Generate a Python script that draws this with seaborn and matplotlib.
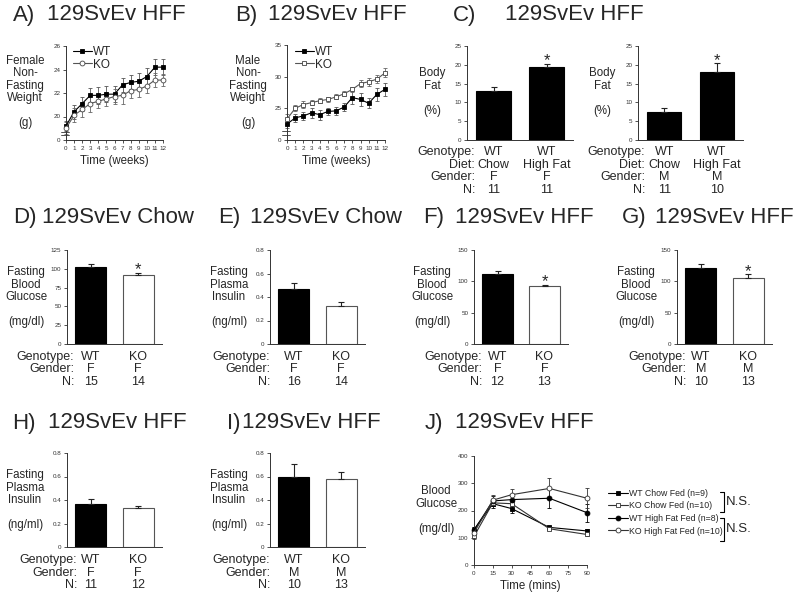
# 129SvEv HFF / Chow panels A-J
import numpy as np
import pandas as pd
import matplotlib
matplotlib.use("Agg")
import matplotlib.pyplot as plt
import matplotlib.transforms as transforms
from matplotlib.lines import Line2D
import seaborn as sns

# A/B: weekly body weight (g)
weeks = list(range(13))
female_wt = [19.2, 20.4, 21.1, 21.8, 21.8, 21.9, 21.9, 22.7, 22.9, 23.0, 23.4, 24.2, 24.2]
female_wt_err = [0.4, 0.6, 0.6, 0.6, 0.7, 0.7, 0.7, 0.6, 0.6, 0.7, 0.7, 0.7, 0.7]
female_ko = [19.0, 20.1, 20.6, 21.1, 21.3, 21.5, 21.7, 21.8, 22.2, 22.3, 22.6, 23.1, 23.1]
female_ko_err = [0.5, 0.6, 0.6, 0.7, 0.6, 0.6, 0.6, 0.7, 0.6, 0.6, 0.6, 0.6, 0.5]
male_wt = [22.5, 23.5, 23.8, 24.3, 24.0, 24.5, 24.6, 25.2, 26.7, 26.4, 25.8, 27.2, 28.0]
male_wt_err = [0.6, 0.6, 0.6, 0.8, 0.8, 0.6, 0.6, 0.6, 1.0, 1.0, 0.8, 1.0, 1.0]
male_ko = [23.3, 25.0, 25.6, 25.9, 26.2, 26.4, 26.8, 27.3, 28.0, 28.9, 29.2, 29.6, 30.6]
male_ko_err = [0.8, 0.5, 0.5, 0.4, 0.4, 0.4, 0.4, 0.4, 0.4, 0.5, 0.6, 0.6, 0.7]

# C: body fat (%)
fat_f = [13.0, 19.3]
fat_f_err = [1.0, 1.0]
fat_m = [7.4, 18.1]
fat_m_err = [1.2, 2.3]

# D-I: fasting glucose (mg/dl) and insulin (ng/ml)
chow_glu = [103, 92]
chow_glu_err = [3, 3]
chow_ins = [0.47, 0.32]
chow_ins_err = [0.05, 0.04]
hff_glu_f = [111, 92]
hff_glu_f_err = [5, 2]
hff_glu_m = [122, 106]
hff_glu_m_err = [6, 5]
hff_ins_f = [0.37, 0.33]
hff_ins_f_err = [0.04, 0.02]
hff_ins_m = [0.60, 0.58]
hff_ins_m_err = [0.11, 0.06]

# table text under the bars
geno_wt_wt = ["WT", "WT"]
geno_wt_ko = ["WT", "KO"]
diet_c = ["Chow", "High Fat"]
sex_f = ["F", "F"]
sex_m = ["M", "M"]
n_c1 = ["11", "11"]
n_c2 = ["11", "10"]
n_d = ["15", "14"]
n_e = ["16", "14"]
n_f = ["12", "13"]
n_g = ["10", "13"]
n_h = ["11", "12"]
n_i = ["10", "13"]

# J: glucose tolerance test
gtt_time = [0, 15, 30, 60, 90]
gtt_wt_chow = [130, 225, 207, 138, 125]
gtt_wt_chow_err = [8, 15, 18, 6, 6]
gtt_ko_chow = [105, 228, 225, 133, 112]
gtt_ko_chow_err = [8, 12, 10, 5, 5]
gtt_wt_hf = [128, 235, 240, 245, 192]
gtt_wt_hf_err = [10, 20, 15, 37, 33]
gtt_ko_hf = [118, 238, 258, 281, 245]
gtt_ko_hf_err = [8, 20, 20, 37, 37]

sns.set_theme(style="ticks")
plt.rcParams["font.family"] = ["Liberation Sans", "DejaVu Sans"]

W, H = 800, 597
fig = plt.figure(figsize=(W / 100, H / 100), dpi=100)


def fx(px):
    return px / W


def fy(py):
    return 1 - py / H


def make_ax(l, t, r, b):
    ax = fig.add_axes([fx(l), fy(b), (r - l) / W, (b - t) / H])
    sns.despine(ax=ax)
    for s in ("left", "bottom"):
        ax.spines[s].set_linewidth(0.7)
        ax.spines[s].set_color("#333")
    ax.tick_params(labelsize=4.5, length=2.5, width=0.6, color="#333",
                   labelcolor="#333", pad=1.5)
    ax.set_facecolor("none")
    return ax


def title(label, lx, name, nx, y):
    fig.text(fx(lx), fy(y), label, fontsize=16, ha="left", va="center")
    fig.text(fx(nx), fy(y), name, fontsize=16, ha="left", va="center")


def ylab(text, x, y):
    fig.text(fx(x), fy(y), text, fontsize=8.3, ha="center", va="center",
             multialignment="center", linespacing=1.05)


def bar_panel(box, vals, errs, fills, ymax, ystep, stars, headers, rows, hdr_x, offs):
    l, t, r, b = box
    ax = make_ax(*box)
    keys = [" ".join(c) for c in zip(*rows)]
    df = pd.DataFrame({"key": keys, "val": vals})
    sns.barplot(data=df, x="key", y="val", hue="key", palette=dict(zip(keys, fills)),
                width=0.65, errorbar=None, legend=False, linewidth=0.8, ax=ax)
    for p, f in zip(ax.patches, fills):
        p.set_edgecolor("black" if f == "black" else "#555")
    ax.errorbar(range(len(vals)), vals, yerr=[[0] * len(vals), errs], fmt="none",
                ecolor="#222", elinewidth=0.8, capsize=2, capthick=0.8)
    for i in stars:
        ax.annotate("*", xy=(i, vals[i] + errs[i]), xytext=(0, -1),
                    textcoords="offset points", ha="center", va="baseline", fontsize=12)
    ax.set_xlim(-0.5, len(vals) - 0.5)
    ax.set_ylim(0, ymax)
    ticks = np.arange(0, ymax + ystep / 2, ystep)
    ax.set_yticks(ticks)
    ax.set_yticklabels([f"{v:g}" for v in ticks])
    ax.set_xticks([])
    ax.set_xlabel("")
    ax.set_ylabel("")
    tr = transforms.blended_transform_factory(ax.transData, fig.transFigure)
    for row, h, off in zip(rows, headers, offs):
        yy = fy(b + off)
        fig.text(fx(hdr_x), yy, h, ha="right", va="center", fontsize=9)
        for i, txt in enumerate(row):
            ax.text(i, yy, txt, transform=tr, ha="center", va="center", fontsize=9)
    return ax


def weight_panel(box, wt, wt_err, ko, ko_err, ko_marker, ylo, ticks, labels, leg_xy):
    ax = make_ax(*box)
    sns.lineplot(x=weeks, y=wt, ax=ax, color="black", lw=0.8, marker="s", markersize=3.5,
                 markerfacecolor="black", markeredgecolor="black", markeredgewidth=0.6,
                 label="WT", clip_on=False, zorder=4)
    ax.errorbar(weeks, wt, yerr=wt_err, fmt="none", ecolor="#555", elinewidth=0.6,
                capsize=1.5, capthick=0.6, clip_on=False)
    sns.lineplot(x=weeks, y=ko, ax=ax, color="#555", lw=0.8, marker=ko_marker, markersize=3.5,
                 markerfacecolor="white", markeredgecolor="#444", markeredgewidth=0.6,
                 label="KO", clip_on=False, zorder=4)
    ax.errorbar(weeks, ko, yerr=ko_err, fmt="none", ecolor="#666", elinewidth=0.6,
                capsize=1.5, capthick=0.6, clip_on=False)
    ax.set_xlim(0, 12)
    ax.set_ylim(ylo, ticks[-1])
    ax.set_xticks(weeks)
    ax.set_yticks(ticks)
    ax.set_yticklabels(labels)
    ax.set_ylabel("")
    ax.set_xlabel("Time (weeks)", fontsize=8.3, labelpad=3)
    for yb in (0.055, 0.09):
        ax.plot([-0.05, 0.03], [yb, yb], transform=ax.transAxes, color="#333",
                lw=0.6, clip_on=False)
    ax.legend(loc="upper left", bbox_to_anchor=leg_xy, bbox_transform=fig.transFigure,
              frameon=False, fontsize=8.5, handlelength=1.6, handletextpad=0.1,
              labelspacing=0.05, borderaxespad=0, borderpad=0)
    return ax


# ---- row 1 ----
title("A)", 13, "129SvEv HFF", 47, 15)
weight_panel((66, 46, 163, 140), female_wt, female_wt_err, female_ko, female_ko_err, "o",
             18, [18, 20, 22, 24, 26], ["0", "20", "22", "24", "26"], (fx(73), fy(46)))
ylab("Female\nNon-\nFasting\nWeight\n\n(g)", 25, 92)

title("B)", 235, "129SvEv HFF", 268, 15)
weight_panel((287, 45, 385, 140), male_wt, male_wt_err, male_ko, male_ko_err, "s",
             20, [20, 25, 30, 35], ["0", "25", "30", "35"], (fx(295), fy(46)))
ylab("Male\nNon-\nFasting\nWeight\n\n(g)", 248, 92)

title("C)", 453, "129SvEv HFF", 505, 15)
c_hdr = ["Genotype:", "Diet:", "Gender:", "N:"]
c_offs = [12, 25, 37, 50]
bar_panel((467, 46, 573, 140), fat_f, fat_f_err, ["black", "black"], 25, 5, [1],
          c_hdr, [geno_wt_wt, diet_c, sex_f, n_c1], 475, c_offs)
ylab("Body\nFat\n\n(%)", 432, 92)
bar_panel((638, 46, 743, 140), fat_m, fat_m_err, ["black", "black"], 25, 5, [1],
          c_hdr, [geno_wt_wt, diet_c, sex_m, n_c2], 645, c_offs)
ylab("Body\nFat\n\n(%)", 602, 92)

# ---- row 2 ----
hdr = ["Genotype:", "Gender:", "N:"]
offs = [13, 25.5, 38]
wk = ["black", "white"]
glu_lab = "Fasting\nBlood\nGlucose\n\n(mg/dl)"
ins_lab = "Fasting\nPlasma\nInsulin\n\n(ng/ml)"

title("D)", 13, "129SvEv Chow", 42, 217)
bar_panel((67, 250, 162, 344), chow_glu, chow_glu_err, wk, 125, 25, [1],
          hdr, [geno_wt_ko, sex_f, n_d], 74, offs)
ylab(glu_lab, 26, 297)

title("E)", 218, "129SvEv Chow", 250, 217)
bar_panel((270, 250, 365, 344), chow_ins, chow_ins_err, wk, 0.8, 0.2, [],
          hdr, [geno_wt_ko, sex_f, n_e], 270, offs)
ylab(ins_lab, 229, 297)

title("F)", 423, "129SvEv HFF", 455, 217)
bar_panel((474, 250, 568, 344), hff_glu_f, hff_glu_f_err, wk, 150, 50, [1],
          hdr, [geno_wt_ko, sex_f, n_f], 482, offs)
ylab(glu_lab, 432, 297)

title("G)", 622, "129SvEv HFF", 655, 217)
bar_panel((677, 250, 772, 344), hff_glu_m, hff_glu_m_err, wk, 150, 50, [1],
          hdr, [geno_wt_ko, sex_m, n_g], 686, offs)
ylab(glu_lab, 636, 297)

# ---- row 3 ----
title("H)", 12, "129SvEv HFF", 48, 423)
bar_panel((67, 453, 162, 547), hff_ins_f, hff_ins_f_err, wk, 0.8, 0.2, [],
          hdr, [geno_wt_ko, sex_f, n_h], 77, offs)
ylab(ins_lab, 25, 500)

title("I)", 227, "129SvEv HFF", 242, 423)
bar_panel((270, 453, 365, 547), hff_ins_m, hff_ins_m_err, wk, 0.8, 0.2, [],
          hdr, [geno_wt_ko, sex_m, n_i], 270, offs)
ylab(ins_lab, 229, 500)

title("J)", 425, "129SvEv HFF", 455, 423)
ax = make_ax(474, 456, 587, 565)
series = [
    ("WT Chow Fed (n=9)", gtt_wt_chow, gtt_wt_chow_err, "s", "black", "black"),
    ("KO Chow Fed (n=10)", gtt_ko_chow, gtt_ko_chow_err, "s", "white", "#333"),
    ("WT High Fat Fed (n=8)", gtt_wt_hf, gtt_wt_hf_err, "o", "black", "black"),
    ("KO High Fat Fed (n=10)", gtt_ko_hf, gtt_ko_hf_err, "o", "white", "#333"),
]
for lab, v, e, m, fc, col in series:
    sns.lineplot(x=gtt_time, y=v, ax=ax, color=col, lw=0.8, marker=m, markersize=3.5,
                 markerfacecolor=fc, markeredgecolor=col, markeredgewidth=0.6,
                 label=lab, clip_on=False, zorder=4)
    ax.errorbar(gtt_time, v, yerr=e, fmt="none", ecolor=col, elinewidth=0.6,
                capsize=1.5, capthick=0.6, clip_on=False)
ax.set_xlim(0, 90)
ax.set_ylim(0, 400)
ax.set_xticks(range(0, 91, 15))
ax.set_yticks(range(0, 401, 100))
ax.set_ylabel("")
ax.set_xlabel("Time (mins)", fontsize=8.3, labelpad=3)
ax.legend(loc="upper left", bbox_to_anchor=(fx(608), fy(489)), bbox_transform=fig.transFigure,
          frameon=False, fontsize=6.3, handlelength=2.3, handletextpad=0.1,
          labelspacing=0.4, borderaxespad=0, borderpad=0)
ylab("Blood\nGlucose\n\n(mg/dl)", 436, 510)

for y0, y1 in ((492, 512), (518, 541)):
    fig.add_artist(Line2D([fx(720), fx(724), fx(724), fx(720)],
                          [fy(y0), fy(y0), fy(y1), fy(y1)], color="black", lw=0.8))
    fig.text(fx(726), fy((y0 + y1) / 2), "N.S.", fontsize=9.5, ha="left", va="center")

fig.savefig("out.png", dpi=100, facecolor="white")
